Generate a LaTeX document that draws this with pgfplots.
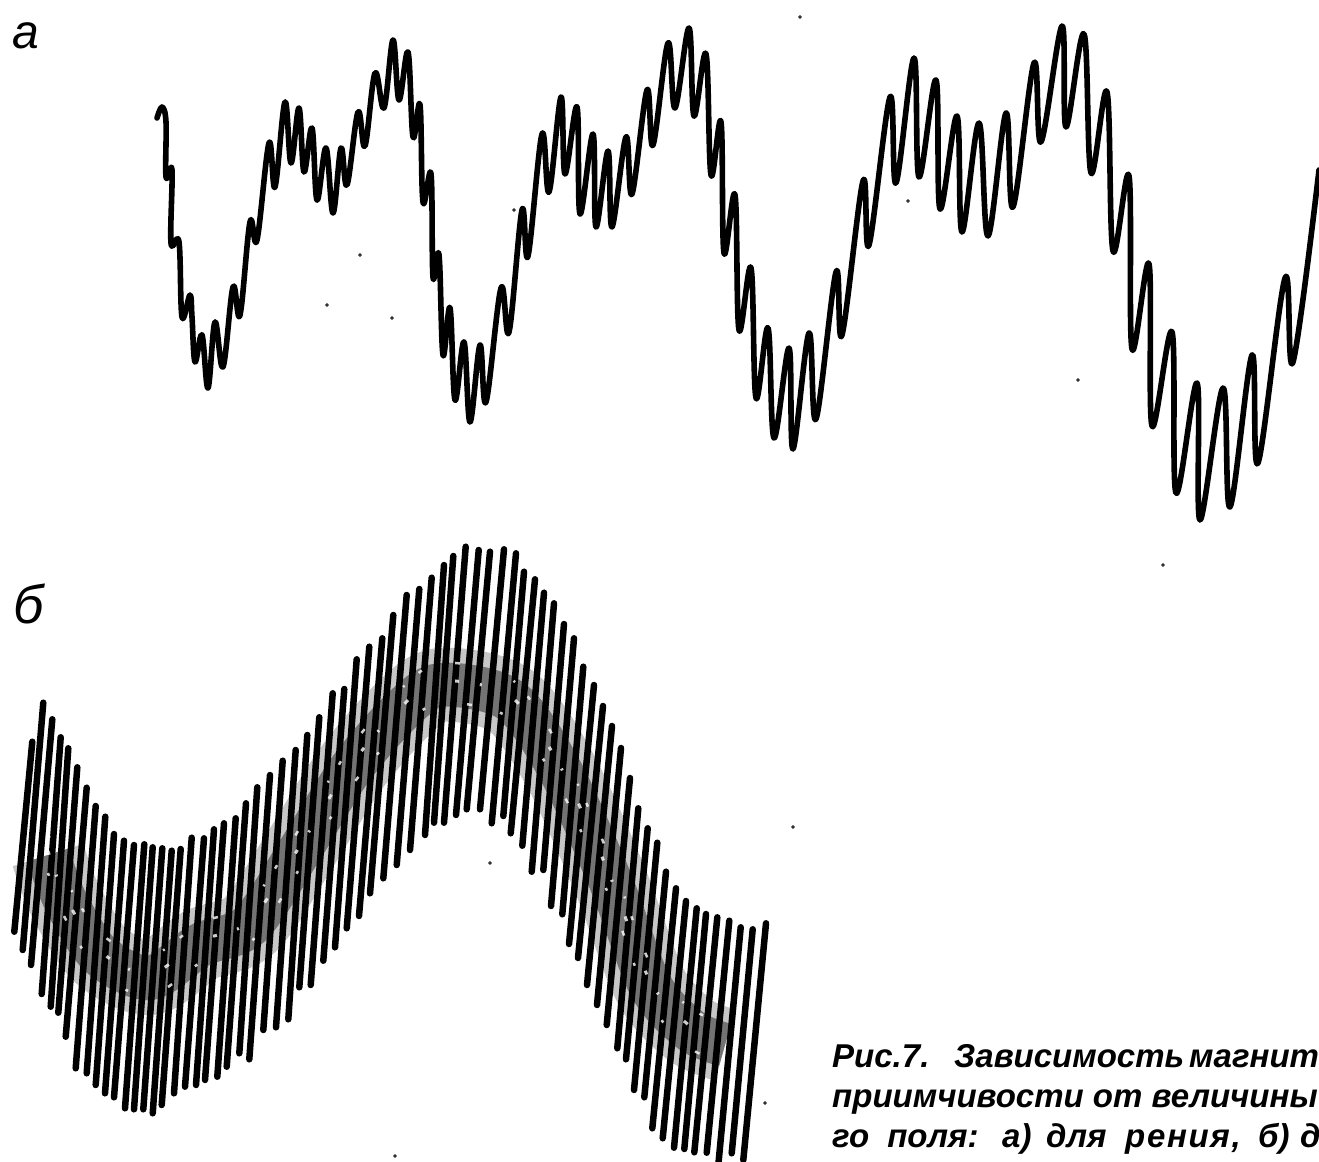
\documentclass[border=0pt]{standalone}
\usepackage{fontspec}
\setmainfont{Liberation Sans}
\usepackage{pgfplots}
\usepackage{pgfplotstable}
\pgfplotsset{compat=1.18}
\pgfplotstableread{
x y
48 855
65 900
100 955
150 978
200 945
250 925
300 850
350 770
400 712
440 685
510 700
560 770
610 880
650 985
690 1030
725 1045
}\bandmid
\begin{document}
\begin{tikzpicture}
\begin{axis}[
  hide axis, scale only axis, width=1319bp, height=1162bp,
  xmin=0, xmax=1319, ymin=0, ymax=1162, y dir=reverse,
  clip=true, unbounded coords=jump,
]
\path (rel axis cs:0,0) rectangle (rel axis cs:1,1);
% curve a
\addplot[black, line width=5.6bp, smooth, tension=0.62, line cap=round, line join=round] coordinates {
(157,118)(162,107)(166,122)(166,177)(172,170)(171,243)(179,242)(182,317)(190,295)(192,317)(195,362)(202,335)(208,388)(215,322)(223,367)(233,287)(240,315)(250,222)(257,240)(269,143)(275,187)(285,102)(291,163)(299,108)(304,172)(312,128)(317,200)(326,148)(333,213)(341,148)(347,185)(358,112)(365,146)(375,73)(384,108)(393,40)(399,100)(408,52)(413,137)(420,105)(423,202)(431,174)(433,277)(439,255)(443,355)(450,308)(455,400)(464,342)(470,422)(480,345)(486,402)(501,288)(509,332)(522,210)(528,256)(542,134)(549,192)(561,97)(565,174)(577,107)(580,214)(593,134)(596,227)(608,151)(612,227)(626,137)(632,194)(647,90)(653,145)(668,43)(675,108)(689,28)(694,116)(706,54)(711,175)(721,122)(724,253)(735,195)(739,330)(751,268)(756,398)(768,328)(774,438)(789,348)(793,449)(809,333)(816,419)(836,272)(842,335)(863,181)(869,245)(890,97)(896,183)(914,58)(919,177)(936,80)(940,209)(957,116)(962,232)(979,123)(988,236)(1006,113)(1013,207)(1034,63)(1041,142)(1062,26)(1066,127)(1084,34)(1091,173)(1107,92)(1113,251)(1129,176)(1132,349)(1149,264)(1152,426)(1172,332)(1176,493)(1197,383)(1200,520)(1223,388)(1230,507)(1252,355)(1258,463)(1285,278)(1293,362)(1319,170)
};
% central band of curve b, mottled
\addplot[black!22, line width=74bp, smooth, tension=0.5, line cap=butt] table {\bandmid};
\addplot[black!55, line width=44bp, smooth, tension=0.5, line cap=butt] table {\bandmid};
% curve b
\addplot[black, line width=6.5bp, line cap=round] table {
32.3 741.7
14.3 931.7
nan nan
43.3 702.7
22.7 950
nan nan
52.3 719.3
31 965
nan nan
60.7 737.3
41.7 994
nan nan
68.3 748.3
50.7 1006.7
nan nan
77.3 767.3
58.3 1012.7
nan nan
86.7 787.7
65.7 1036.7
nan nan
95.7 806
75.7 1068.3
nan nan
105.3 816.7
86.7 1073.3
nan nan
114 834
95.7 1085
nan nan
124 840.7
105 1093.3
nan nan
134 845
114 1097.3
nan nan
144.3 844.3
125 1108.3
nan nan
152.7 847.3
134 1109.3
nan nan
162.3 848.3
143.3 1109.3
nan nan
171.7 850.7
152.7 1113.3
nan nan
180.7 849
161.7 1105
nan nan
191.7 837.7
174 1093.3
nan nan
204 838.3
185 1086.7
nan nan
214 829.3
196 1085
nan nan
224 823.3
205 1080
nan nan
235.7 818.3
217.3 1076.7
nan nan
246 803.3
226.7 1066.7
nan nan
257.3 787.3
239.3 1053.3
nan nan
270 775
249.3 1059.3
nan nan
282.7 760.7
263.3 1030
nan nan
295.7 750
276 1027.3
nan nan
307.3 735
288.3 1019.3
nan nan
319.3 717.3
299.3 987.3
nan nan
332.7 693.3
310.7 985
nan nan
344.3 689
323.3 960.7
nan nan
356.7 659.3
335 947.3
nan nan
369.3 646.7
346.7 928.3
nan nan
382.3 638.3
359 916
nan nan
393.3 615
370 893.3
nan nan
406.7 595
383.3 878.3
nan nan
419.3 589
396.7 865
nan nan
431.7 577.7
410 850
nan nan
444 565
425 835
nan nan
453.3 556
434 822.7
nan nan
465.7 546.7
444 822.7
nan nan
478.7 550
456 815
nan nan
490 551.7
466.7 809.3
nan nan
504 549.3
480 809.3
nan nan
516 553.3
491.7 823.3
nan nan
524 571.7
503.3 816
nan nan
535 579.3
510.7 833.3
nan nan
544 592.7
522.3 845.7
nan nan
554 603.3
531.7 871.7
nan nan
564 624
543.3 870
nan nan
574 638.3
551 906
nan nan
583.3 666.7
562.3 914.3
nan nan
594 685
569 944
nan nan
603 706
578 958
nan nan
612 726
587 985
nan nan
621 748
597 1005
nan nan
630 778
606.7 1025
nan nan
638.3 808.3
617.3 1048.3
nan nan
647.7 828.3
626 1059.3
nan nan
657.3 842.7
634 1090
nan nan
666 871.7
644.3 1097.3
nan nan
676 888.3
652.3 1128.3
nan nan
686 901
662.7 1138.3
nan nan
696.7 908.3
674 1147.7
nan nan
706 914
684.3 1149
nan nan
717.3 917.3
694.3 1152.3
nan nan
729.3 920.7
706.7 1152.7
nan nan
740.7 927.3
718.3 1165
nan nan
752.7 929.3
731.7 1153.3
nan nan
766 923.3
743.3 1160
};
% white flecks across the band
\addplot[white, line width=3bp, smooth, tension=0.5, opacity=0.8, dash pattern=on 4bp off 21bp on 2bp off 37bp on 5bp off 53bp, yshift=4bp] table {\bandmid};
\addplot[white, line width=2.5bp, smooth, tension=0.5, opacity=0.8, dash pattern=on 3bp off 43bp on 5bp off 29bp on 3bp off 61bp, yshift=-18bp] table {\bandmid};
\addplot[white, line width=2.5bp, smooth, tension=0.5, opacity=0.8, dash pattern=on 5bp off 57bp on 2bp off 19bp on 4bp off 35bp, yshift=22bp] table {\bandmid};
% scan specks
\addplot[only marks, mark=*, mark size=1.6bp, black!80] coordinates {
(360,255)(327,305)(392,318)(800,17)(908,201)(1078,380)(1163,565)(793,827)(765,1103)(490,863)(395,1156)(514,210)
};
\node[overlay, anchor=base west, inner sep=0pt, font=\fontsize{48bp}{48bp}\selectfont\itshape] at (axis cs:12,48) {а};
\node[overlay, anchor=base west, inner sep=0pt, font=\fontsize{54bp}{54bp}\selectfont\itshape] at (axis cs:13,623) {б};
\node[overlay, anchor=base west, inner sep=0pt, font=\fontsize{33bp}{33bp}\selectfont\bfseries\itshape] at (axis cs:832,1067) {\makebox[122bp][l]{Рис.7.}\makebox[235bp][l]{Зависимость}магнит};
\node[overlay, anchor=base west, inner sep=0pt, font=\fontsize{33bp}{33bp}\selectfont\bfseries\itshape] at (axis cs:832,1107) {приимчивости от величины};
\node[overlay, anchor=base west, inner sep=0pt, font=\fontsize{33bp}{33bp}\selectfont\bfseries\itshape] at (axis cs:832,1147) {\makebox[170bp][l]{го\hspace{9bp} поля:}\makebox[44bp][l]{а)}\makebox[79bp][l]{для}\makebox[133bp][l]{\addfontfeature{LetterSpace=5}рения,}\makebox[42bp][l]{б)}д};
\end{axis}
\end{tikzpicture}
\end{document}
